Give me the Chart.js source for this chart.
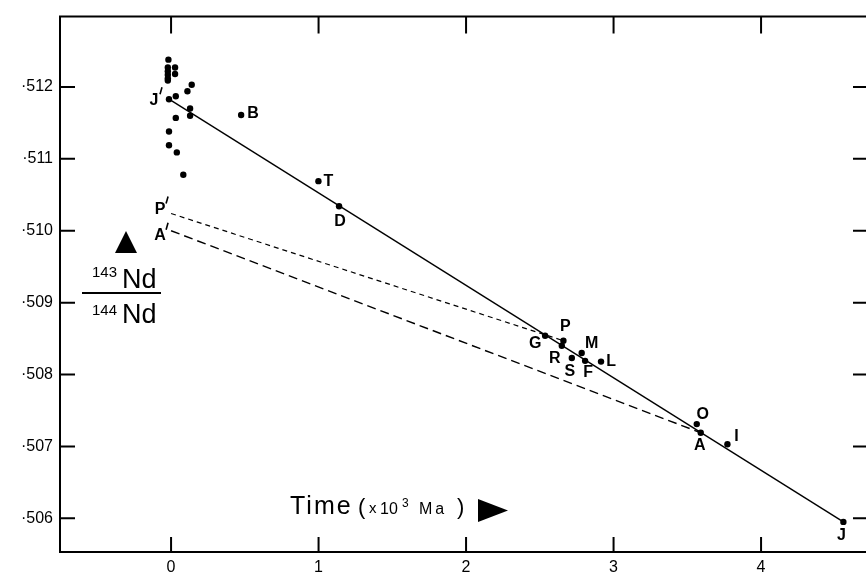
<!DOCTYPE html>
<html>
<head>
<meta charset="utf-8">
<title>Nd isotope evolution</title>
<script src="https://cdn.jsdelivr.net/npm/chart.js@4.4.1/dist/chart.umd.min.js"></script>
<style>
  html, body { margin: 0; padding: 0; background: #fff; overflow: hidden; }
  #wrap { width: 866px; height: 577px; overflow: hidden; position: relative; }
  canvas { display: block; }
</style>
</head>
<body>
<div id="wrap"><canvas id="chart" width="880" height="577"></canvas></div>
<script>
// Labelled samples: age (x 10^3 Ma) and 143Nd/144Nd
const sampleNames  = ['J′', 'B', 'T', 'D', 'G', 'P', 'R', 'M', 'S', 'F', 'L', 'O', 'A', 'I', 'J'];
const sampleAges   = [-0.014, 0.475, 0.999, 1.139, 2.536, 2.660, 2.649, 2.784, 2.717, 2.807, 2.915, 3.564, 3.591, 3.772, 4.558];
const sampleRatios = [0.51183, 0.51161, 0.51069, 0.51034, 0.50854, 0.50847, 0.50840, 0.50830, 0.50823, 0.50819, 0.50818, 0.50731, 0.50719, 0.50703, 0.50595];

// Unlabelled young samples close to t = 0
const clusterAges   = [-0.018, -0.022, -0.022, -0.022, -0.022, -0.022, 0.027, 0.027, 0.032, 0.140, 0.111, 0.129, 0.129, 0.032, -0.014, -0.014, 0.039, 0.083];
const clusterRatios = [0.51238, 0.51227, 0.51222, 0.51217, 0.51212, 0.51209, 0.51227, 0.51218, 0.51187, 0.51203, 0.51194, 0.51170, 0.51160, 0.51157, 0.51138, 0.51119, 0.51109, 0.51078];

// Initial ratios at t = 0 projected back from P and A
const initialNames   = ['P′', 'A′'];
const initialTargets = ['P', 'A'];
const initialRatios  = [0.51024, 0.51000];

const xTickValues = [0, 1, 2, 3, 4];
const xTickLabels = ['0', '1', '2', '3', '4'];
const yTickValues = [0.506, 0.507, 0.508, 0.509, 0.510, 0.511, 0.512];
const yTickLabels = ['·506', '·507', '·508', '·509', '·510', '·511', '·512'];

const FONT = '"Liberation Sans", Arial, Helvetica, sans-serif';

// label placement around each dot: [dx, dy]
const labelOffsets = {
  'J′': [-15, 1], 'B': [12, -1], 'T': [10, 0], 'D': [1, 15], 'G': [-10, 8],
  'P': [2, -14], 'R': [-7, 13], 'M': [10, -9], 'S': [-2, 14], 'F': [3, 12],
  'L': [10, 0], 'O': [6, -10], 'A': [-1, 13], 'I': [9, -8], 'J': [-2, 14]
};

const idx = name => sampleNames.indexOf(name);
const pt = (x, y) => ({ x, y });

const samplePoints  = sampleAges.map((a, i) => pt(a, sampleRatios[i]));
const clusterPoints = clusterAges.map((a, i) => pt(a, clusterRatios[i]));
const trendLine = [samplePoints[idx('J′')], samplePoints[idx('J')]];
const initialLines = initialRatios.map((r, i) => [pt(0, r), samplePoints[idx(initialTargets[i])]]);

function drawPrimed(ctx, text, x, y) {
  // letter with a raised prime stroke, like J′ P′ A′
  const letter = text.replace('′', '');
  ctx.textAlign = 'center';
  ctx.fillText(letter, x, y);
  if (text.includes('′')) {
    ctx.save();
    ctx.lineWidth = 1.6;
    ctx.beginPath();
    ctx.moveTo(x + 6, y - 6);
    ctx.lineTo(x + 8, y - 13);
    ctx.stroke();
    ctx.restore();
  }
}

// frame with inward ticks on all sides
const framePlugin = {
  id: 'frame',
  afterDraw(chart) {
    const { ctx, chartArea: a, scales: { x, y } } = chart;
    ctx.save();
    ctx.strokeStyle = '#000';
    ctx.lineWidth = 2;
    ctx.beginPath();
    ctx.moveTo(a.right, a.top);
    ctx.lineTo(a.left, a.top);
    ctx.lineTo(a.left, a.bottom);
    ctx.lineTo(a.right, a.bottom);
    ctx.lineTo(a.right, a.top);
    ctx.stroke();
    ctx.beginPath();
    yTickValues.forEach(v => {
      const py = y.getPixelForValue(v);
      ctx.moveTo(a.left, py); ctx.lineTo(a.left + 15, py);
      ctx.moveTo(a.right, py); ctx.lineTo(a.right - 15, py);
    });
    xTickValues.forEach(v => {
      const px = x.getPixelForValue(v);
      ctx.moveTo(px, a.bottom); ctx.lineTo(px, a.bottom - 15);
      ctx.moveTo(px, a.top); ctx.lineTo(px, a.top + 17);
    });
    ctx.stroke();
    ctx.restore();
  }
};

// letters beside the samples
const pointLabelPlugin = {
  id: 'pointLabels',
  afterDatasetsDraw(chart) {
    const { ctx, scales: { x, y } } = chart;
    ctx.save();
    ctx.fillStyle = '#000';
    ctx.strokeStyle = '#000';
    ctx.font = 'bold 16px ' + FONT;
    ctx.textBaseline = 'middle';
    sampleNames.forEach((name, i) => {
      const px = x.getPixelForValue(sampleAges[i]);
      const py = y.getPixelForValue(sampleRatios[i]);
      const [dx, dy] = labelOffsets[name];
      drawPrimed(ctx, name, px + dx, py + dy);
    });
    initialNames.forEach((name, i) => {
      const px = x.getPixelForValue(0);
      const py = y.getPixelForValue(initialRatios[i]);
      drawPrimed(ctx, name, px - 11, py + (i === 0 ? -4 : 5));
    });
    ctx.restore();
  }
};

// axis captions: ratio fraction and time arrow
const captionPlugin = {
  id: 'captions',
  afterDraw(chart) {
    const ctx = chart.ctx;
    ctx.save();
    ctx.fillStyle = '#000';
    ctx.strokeStyle = '#000';
    ctx.textBaseline = 'alphabetic';
    ctx.textAlign = 'left';

    // ▲ marker above the ratio
    ctx.beginPath();
    ctx.moveTo(115, 253); ctx.lineTo(137, 253); ctx.lineTo(126, 231);
    ctx.closePath();
    ctx.fill();

    ctx.font = '15px ' + FONT;
    ctx.fillText('143', 92, 277);
    ctx.fillText('144', 92, 315);
    ctx.font = '27px ' + FONT;
    ctx.fillText('Nd', 122, 288);
    ctx.fillText('Nd', 122, 323);
    ctx.lineWidth = 2;
    ctx.beginPath();
    ctx.moveTo(82, 293); ctx.lineTo(161, 293);
    ctx.stroke();

    // Time ( x 10³ Ma ) ▶
    ctx.font = '25px ' + FONT;
    ctx.letterSpacing = '2px';
    ctx.fillText('Time', 290, 514);
    ctx.letterSpacing = '0px';
    ctx.font = '22px ' + FONT;
    ctx.fillText('(', 358, 514);
    ctx.font = '15px ' + FONT;
    ctx.fillText('x', 369, 513);
    ctx.font = '16px ' + FONT;
    ctx.fillText('10', 380, 514);
    ctx.font = '12px ' + FONT;
    ctx.fillText('3', 402, 507);
    ctx.font = '16px ' + FONT;
    ctx.letterSpacing = '3px';
    ctx.fillText('Ma', 419, 514);
    ctx.letterSpacing = '0px';
    ctx.font = '22px ' + FONT;
    ctx.fillText(')', 457, 514);
    ctx.beginPath();
    ctx.moveTo(478, 499); ctx.lineTo(478, 522); ctx.lineTo(508, 510.5);
    ctx.closePath();
    ctx.fill();
    ctx.restore();
  }
};

const dot = { pointRadius: 3.2, pointBackgroundColor: '#000', pointBorderWidth: 0, showLine: false };
const segment = { pointRadius: 0, borderColor: '#000', showLine: true, fill: false };

new Chart(document.getElementById('chart'), {
  type: 'scatter',
  data: {
    datasets: [
      { label: 'young samples', data: clusterPoints, ...dot },
      { label: 'samples', data: samplePoints, ...dot },
      { label: 'trend', data: trendLine, ...segment, borderWidth: 1.4 },
      { label: 'P′ model', data: initialLines[0], ...segment, borderWidth: 1.2, borderDash: [5, 4] },
      { label: 'A′ model', data: initialLines[1], ...segment, borderWidth: 1.4, borderDash: [9, 5] }
    ]
  },
  options: {
    responsive: false,
    animation: false,
    events: [],
    layout: { padding: { top: 12, right: 12, left: 0, bottom: 0 } },
    plugins: { legend: { display: false }, tooltip: { enabled: false } },
    scales: {
      x: {
        type: 'linear',
        min: -0.753,
        max: 4.725,
        grid: { display: false, drawTicks: false },
        border: { display: false },
        afterFit: s => { s.height = 25; },
        afterBuildTicks: s => { s.ticks = xTickValues.map(v => ({ value: v })); },
        ticks: {
          padding: 6,
          color: '#000',
          font: { family: FONT, size: 16 },
          callback: (v, i) => xTickLabels[i]
        }
      },
      y: {
        type: 'linear',
        min: 0.505531,
        max: 0.512979,
        grid: { display: false, drawTicks: false },
        border: { display: false },
        afterFit: s => { s.width = 60; },
        afterBuildTicks: s => { s.ticks = yTickValues.map(v => ({ value: v })); },
        ticks: {
          padding: 7,
          color: '#000',
          font: { family: FONT, size: 16 },
          callback: (v, i) => yTickLabels[i]
        }
      }
    }
  },
  plugins: [framePlugin, pointLabelPlugin, captionPlugin]
});
</script>
</body>
</html>
